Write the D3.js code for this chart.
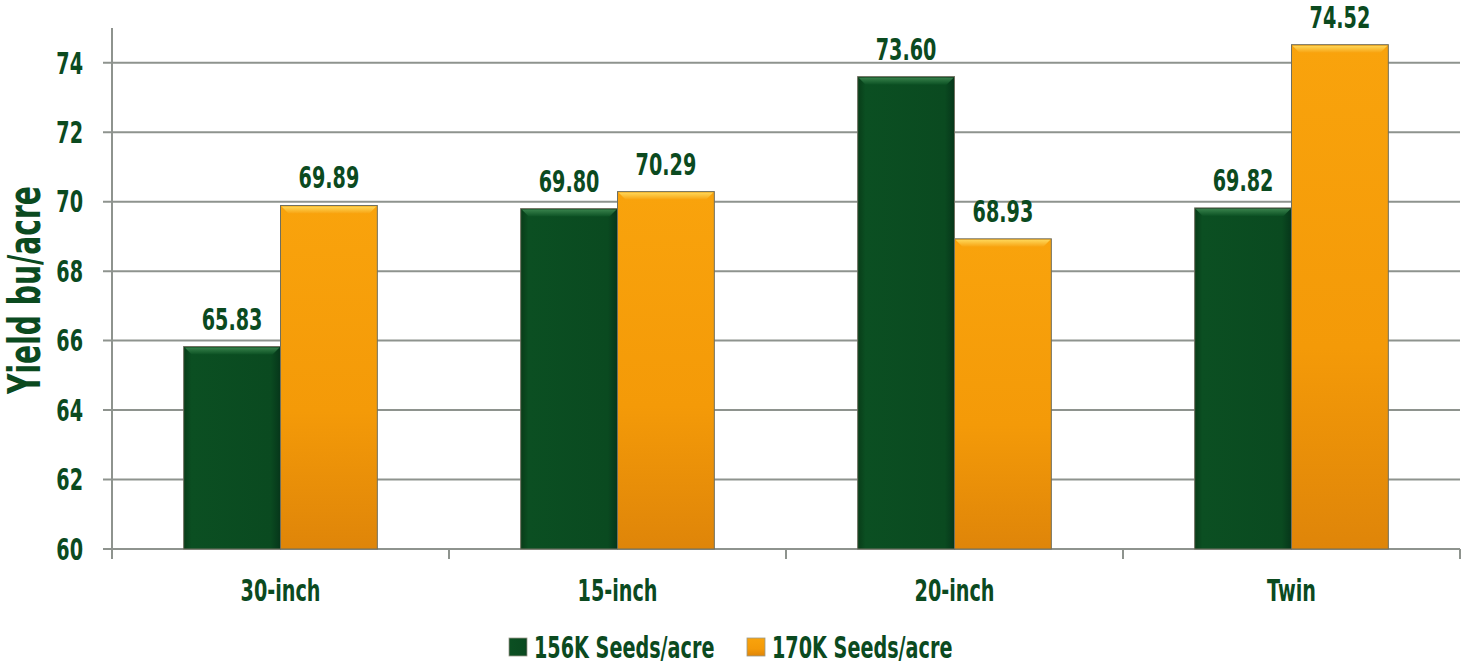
<!DOCTYPE html>
<html>
<head>
<meta charset="utf-8">
<script src="https://cdn.jsdelivr.net/npm/d3@7"></script>
<style>
  body { margin: 0; background: #fff; }
  text { font-family: "DejaVu Sans", sans-serif; font-weight: bold; fill: #0b4a1f; }
</style>
</head>
<body>
<div id="chart"></div>
<script>
var categories = ["30-inch", "15-inch", "20-inch", "Twin"];
var seriesNames = ["156K Seeds/acre", "170K Seeds/acre"];
var seeds156 = [65.83, 69.80, 73.60, 69.82];
var seeds170 = [69.89, 70.29, 68.93, 74.52];
var yTicks = [60, 62, 64, 66, 68, 70, 72, 74];

var margin = { top: 28, left: 112, bottom: 117, right: 6 },
    width = 1466 - margin.left - margin.right,
    height = 666 - margin.top - margin.bottom;

var squeeze = 0.64; // narrow the glyphs to look condensed

var data = categories.map(function (c, i) {
    return { cat: c, values: [seeds156[i], seeds170[i]] };
});

var svg = d3.select('#chart').append('svg')
    .attr('width', 1466)
    .attr('height', 666);

var defs = svg.append('defs');

function gradient(id, stops, horizontal) {
    var g = defs.append('linearGradient').attr('id', id)
        .attr('x1', 0).attr('y1', 0)
        .attr('x2', horizontal ? 1 : 0).attr('y2', horizontal ? 0 : 1);
    stops.forEach(function (s) {
        g.append('stop').attr('offset', s[0]).attr('stop-color', s[1]);
    });
}
gradient('g0', [[0, '#083c18'], [0.08, '#0b4f22'], [0.9, '#0a4a20'], [1, '#06361a']], true);
gradient('g1', [[0, '#f9a30c'], [0.6, '#f49a08'], [1, '#df8509']], false);
gradient('t0', [[0, '#3f8a52'], [1, '#0c5224']], false);
gradient('t1', [[0, '#ffe066'], [1, '#f8a412']], false);

// condensed text helper
function ctext(sel, fx, fy) {
    return sel.append('text')
        .attr('transform', function (d, i) {
            return 'translate(' + fx(d, i) + ',' + fy(d, i) + ') scale(' + squeeze + ',1)';
        });
}

var chart = svg.append('g')
    .attr('transform', 'translate(' + margin.left + ',' + margin.top + ')');

var x0 = d3.scaleBand().domain(categories).range([0, width]).padding(0);
var x1 = d3.scaleBand().domain([0, 1]).range([0, x0.bandwidth()])
    .paddingInner(0).paddingOuter(0.74);
var y = d3.scaleLinear().domain([60, 75]).range([height, 0]);

// gridlines
chart.append('g').selectAll('line')
    .data(yTicks)
    .enter().append('line')
    .attr('x1', -9).attr('x2', width)
    .attr('y1', function (d) { return y(d); })
    .attr('y2', function (d) { return y(d); })
    .attr('stroke', '#8e938e')
    .attr('stroke-width', 2);

// y axis line
chart.append('line')
    .attr('x1', 0).attr('x2', 0)
    .attr('y1', 0).attr('y2', height + 10)
    .attr('stroke', '#8e938e').attr('stroke-width', 2);

// x ticks at category boundaries
chart.append('g').selectAll('line')
    .data(categories)
    .enter().append('line')
    .attr('x1', function (d) { return x0(d) + x0.step(); })
    .attr('x2', function (d) { return x0(d) + x0.step(); })
    .attr('y1', height).attr('y2', height + 10)
    .attr('stroke', '#8e938e').attr('stroke-width', 2);

// y tick labels
ctext(chart.append('g').selectAll('text').data(yTicks).enter(),
        function () { return -29; }, function (d) { return y(d); })
    .attr('dy', '0.36em')
    .attr('text-anchor', 'end')
    .style('font-size', '30px')
    .text(function (d) { return d; });

// bars
var groups = chart.selectAll('.grp')
    .data(data)
    .enter().append('g')
    .attr('class', 'grp')
    .attr('transform', function (d) { return 'translate(' + x0(d.cat) + ',0)'; });

var bars = groups.selectAll('.bar')
    .data(function (d) { return d.values.map(function (v, i) { return { s: i, v: v }; }); })
    .enter().append('g')
    .attr('class', 'bar');

bars.append('rect')
    .attr('x', function (d) { return x1(d.s); })
    .attr('y', function (d) { return y(d.v); })
    .attr('width', x1.bandwidth())
    .attr('height', function (d) { return height - y(d.v); })
    .attr('fill', function (d) { return 'url(#g' + d.s + ')'; })
    .attr('stroke', '#6f6f5f')
    .attr('stroke-width', 1);

// top bevel
bars.append('path')
    .attr('d', function (d) {
        var xl = x1(d.s) + 1, xr = x1(d.s) + x1.bandwidth() - 1, yt = y(d.v) + 1, b = 7;
        return 'M' + xl + ',' + yt + 'L' + xr + ',' + yt + 'L' + (xr - b) + ',' + (yt + b) + 'L' + (xl + b) + ',' + (yt + b) + 'Z';
    })
    .attr('fill', function (d) { return 'url(#t' + d.s + ')'; })
    .attr('opacity', 0.85);

ctext(bars, function (d) { return x1(d.s) + x1.bandwidth() / 2; },
        function (d) { return y(d.v) - 17; })
    .attr('text-anchor', 'middle')
    .style('font-size', '30px')
    .text(function (d) { return d3.format('.2f')(d.v); });

// x labels
ctext(chart.append('g').selectAll('text').data(categories).enter(),
        function (d) { return x0(d) + x0.bandwidth() / 2; }, function () { return height + 52; })
    .attr('text-anchor', 'middle')
    .style('font-size', '30px')
    .text(function (d) { return d; });

// y title
svg.append('text')
    .attr('transform', 'translate(40,290) rotate(-90) scale(' + squeeze + ',1)')
    .attr('text-anchor', 'middle')
    .style('font-size', '44px')
    .text('Yield bu/acre');

// legend
var legendX = [509, 747];
var legend = svg.selectAll('.legend')
    .data(seriesNames)
    .enter().append('g')
    .attr('class', 'legend')
    .attr('transform', function (d, i) { return 'translate(' + legendX[i] + ',638)'; });

legend.append('rect')
    .attr('width', 18).attr('height', 18)
    .attr('fill', function (d, i) { return 'url(#g' + i + ')'; })
    .attr('stroke', '#9a9a8a').attr('stroke-width', 0.8);

ctext(legend, function () { return 25; }, function () { return 9; })
    .attr('dy', '0.36em')
    .style('font-size', '30px')
    .text(function (d) { return d; });
</script>
</body>
</html>
